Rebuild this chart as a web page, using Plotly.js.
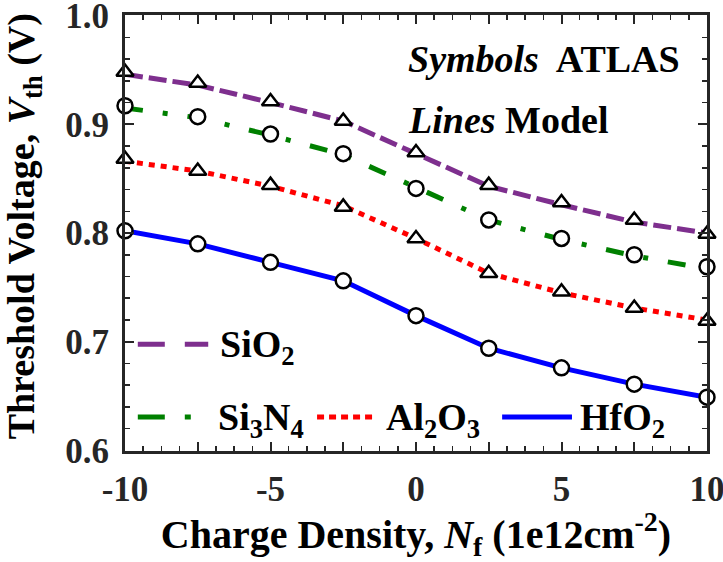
<!DOCTYPE html>
<html>
<head>
<meta charset="utf-8">
<script src="https://cdn.plot.ly/plotly-3.0.1.min.js"></script>
<style>
  html, body { margin: 0; padding: 0; background: #fff; }
  #chart { width: 723px; height: 562px; }
</style>
</head>
<body>
<div id="chart"></div>
<script>
// Charge density (1e12 cm^-2)
const chargeDensity = [-10, -7.5, -5, -2.5, 0, 2.5, 5, 7.5, 10];

// ATLAS simulation points (V)
const atlasSiO2  = [0.948, 0.938, 0.921, 0.903, 0.874, 0.844, 0.828, 0.812, 0.799];
const atlasSi3N4 = [0.917, 0.907, 0.891, 0.873, 0.841, 0.812, 0.795, 0.780, 0.769];
const atlasAl2O3 = [0.868, 0.857, 0.844, 0.824, 0.795, 0.763, 0.746, 0.731, 0.719];
const atlasHfO2  = [0.802, 0.790, 0.773, 0.756, 0.724, 0.694, 0.676, 0.661, 0.649];

// Analytical model curves (V)
const modelSiO2  = [0.946, 0.936, 0.920, 0.903, 0.873, 0.843, 0.826, 0.810, 0.800];
const modelSi3N4 = [0.915, 0.906, 0.890, 0.872, 0.842, 0.812, 0.794, 0.779, 0.767];
const modelAl2O3 = [0.866, 0.857, 0.843, 0.825, 0.795, 0.763, 0.745, 0.731, 0.720];
const modelHfO2  = [0.802, 0.790, 0.773, 0.756, 0.724, 0.694, 0.676, 0.661, 0.649];

// Axis ticks
const xTickVals = [-10, -7.5, -5, -2.5, 0, 2.5, 5, 7.5, 10];
const xTickText = ['-10', '', '-5', '', '0', '', '5', '', '10'];
const yTickVals = [0.6, 0.7, 0.8, 0.9, 1.0];
const yTickText = ['0.6', '0.7', '0.8', '0.9', '1.0'];

// Legend labels
const legendNames = ['SiO<sub>2</sub>', 'Si<sub>3</sub>N<sub>4</sub>', 'Al<sub>2</sub>O<sub>3</sub>', 'HfO<sub>2</sub>'];

const FONT = 'Liberation Serif, Times New Roman, serif';
const colors = { sio2: '#7E2F8E', si3n4: '#008000', al2o3: '#FF0000', hfo2: '#0000FF' };
const dashes = { sio2: '18px,6px', si3n4: '18px,20px,5px,20px', al2o3: '6px,6px', hfo2: 'solid' };

function modelTrace(y, color, dash) {
  return {
    x: chargeDensity, y: y, type: 'scatter', mode: 'lines',
    line: { color: color, width: 5, dash: dash },
    showlegend: false, hoverinfo: 'skip'
  };
}
function atlasTrace(y, symbol) {
  return {
    x: chargeDensity, y: y, type: 'scatter', mode: 'markers',
    marker: { symbol: symbol, size: 15, color: '#fff', line: { color: '#000', width: 2.5 } },
    cliponaxis: false, showlegend: false
  };
}

const traces = [
  modelTrace(modelSiO2, colors.sio2, dashes.sio2),
  modelTrace(modelSi3N4, colors.si3n4, dashes.si3n4),
  modelTrace(modelAl2O3, colors.al2o3, dashes.al2o3),
  modelTrace(modelHfO2, colors.hfo2, dashes.hfo2),
  atlasTrace(atlasSiO2, 'triangle-up'),
  atlasTrace(atlasSi3N4, 'circle'),
  atlasTrace(atlasAl2O3, 'triangle-up'),
  atlasTrace(atlasHfO2, 'circle')
];

// In-plot legend: line samples and labels (paper coordinates)
const legendItems = [
  { key: 'sio2',  x0: 0.022, x1: 0.143, y: 0.245, tx: 0.160, label: legendNames[0] },
  { key: 'si3n4', x0: 0.022, x1: 0.115, y: 0.078, tx: 0.156, label: legendNames[1] },
  { key: 'al2o3', x0: 0.330, x1: 0.432, y: 0.078, tx: 0.445, label: legendNames[2] },
  { key: 'hfo2',  x0: 0.648, x1: 0.768, y: 0.078, tx: 0.778, label: legendNames[3] }
];
const legendDash = { sio2: '27px,20px', si3n4: '27px,20px,6px,20px', al2o3: '7px,5px', hfo2: 'solid' };
const shapes = legendItems.map(it => ({
  type: 'line', xref: 'paper', yref: 'paper',
  x0: it.x0, x1: it.x1, y0: it.y, y1: it.y,
  line: { color: colors[it.key], width: 5, dash: legendDash[it.key] }
}));
const annotations = legendItems.map(it => ({
  xref: 'paper', yref: 'paper', x: it.tx, y: it.y - 0.006,
  xanchor: 'left', yanchor: 'middle', showarrow: false,
  text: it.label, font: { family: FONT, size: 38, color: '#000', weight: 700 }
}));
annotations.push(
  { xref: 'paper', yref: 'paper', x: 0.482, y: 0.898, xanchor: 'left', yanchor: 'middle', showarrow: false,
    text: '<i>Symbols</i>  ATLAS', font: { family: FONT, size: 38, color: '#000', weight: 700 } },
  { xref: 'paper', yref: 'paper', x: 0.482, y: 0.760, xanchor: 'left', yanchor: 'middle', showarrow: false,
    text: '<i>Lines</i> Model', font: { family: FONT, size: 38, color: '#000', weight: 700 } },
  // vertical axis title
  { xref: 'paper', yref: 'paper', x: -0.172, y: 0.515, xanchor: 'center', yanchor: 'middle',
    textangle: -90, showarrow: false,
    text: 'Threshold Voltage, <i>V</i><sub>th</sub> (V)',
    font: { family: FONT, size: 38, color: '#000', weight: 700 } }
);

const axisCommon = {
  showgrid: false, zeroline: false, showline: true, mirror: 'allticks',
  linecolor: '#262626', linewidth: 3, ticks: 'inside', ticklen: 9, tickwidth: 2, tickcolor: '#262626',
  ticklabeloverflow: 'allow',
  tickfont: { family: FONT, size: 35, color: '#262626', weight: 700 }
};

const layout = {
  width: 723, height: 562,
  margin: { l: 125, r: 16, t: 15, b: 111 },
  paper_bgcolor: '#fff', plot_bgcolor: '#fff',
  showlegend: false,
  xaxis: Object.assign({}, axisCommon, {
    range: [-10, 10], tickmode: 'array', tickvals: xTickVals, ticktext: xTickText,
    ticklabelstandoff: 5,
    minor: { dtick: 0.625, ticks: 'inside', ticklen: 5, tickwidth: 1.5, tickcolor: '#262626' },
    title: { text: 'Charge Density, <i>N</i><sub>f</sub> (1e12cm<sup>-2</sup>)', standoff: 12,
      font: { family: FONT, size: 40, color: '#000', weight: 700 } }
  }),
  yaxis: Object.assign({}, axisCommon, {
    range: [0.5995, 1.0005], tickmode: 'array', tickvals: yTickVals, ticktext: yTickText,
    ticklabelstandoff: 6,
    minor: { tick0: 0.6, dtick: 0.02, ticks: 'inside', ticklen: 5, tickwidth: 1.5, tickcolor: '#262626' }
  }),
  shapes: shapes,
  annotations: annotations
};

Plotly.newPlot('chart', traces, layout, { staticPlot: true });
</script>
</body>
</html>
